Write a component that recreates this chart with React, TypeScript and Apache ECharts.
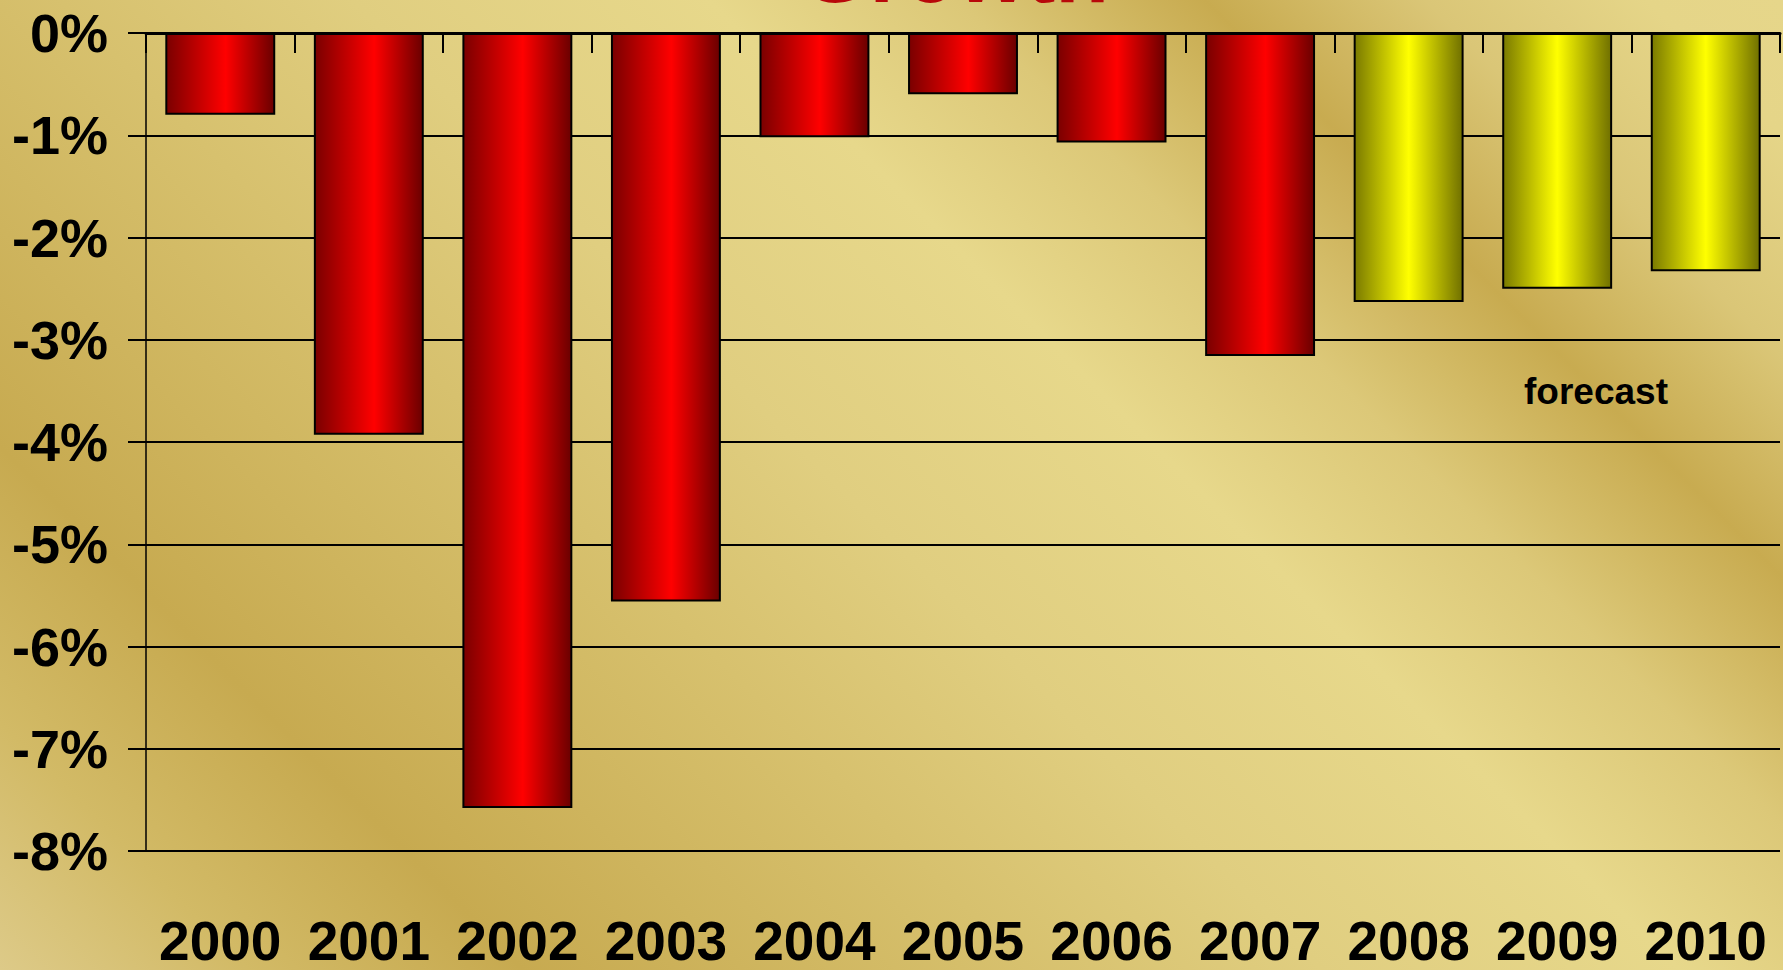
import React, { useEffect, useRef } from "react";
import * as echarts from "echarts";

const years = ["2000", "2001", "2002", "2003", "2004", "2005", "2006", "2007", "2008", "2009", "2010"];
const actualValues: (number | string)[] = [-0.8, -3.93, -7.58, -5.56, -1.02, -0.6, -1.07, -3.16, "-", "-", "-"];
const forecastValues: (number | string)[] = ["-", "-", "-", "-", "-", "-", "-", "-", -2.63, -2.5, -2.33];
const yTicks = { min: -8, max: 0, interval: 1 };
const titleText = "Growth";
const forecastLabel = "forecast";

const sansFont = "'Liberation Sans', Arial, sans-serif";

const redGrad = new echarts.graphic.LinearGradient(0, 0, 1, 0, [
  { offset: 0, color: "#7a0000" },
  { offset: 0.55, color: "#ff0000" },
  { offset: 1, color: "#6a0000" },
]);
const yellowGrad = new echarts.graphic.LinearGradient(0, 0, 1, 0, [
  { offset: 0, color: "#7a7a00" },
  { offset: 0.5, color: "#ffff00" },
  { offset: 1, color: "#707000" },
]);

export default function App() {
  const ref = useRef<HTMLDivElement>(null);
  useEffect(() => {
    if (!ref.current) return;
    const chart = echarts.init(ref.current, undefined, { renderer: "svg" });
    chart.setOption({
      animation: false,
      backgroundColor: "transparent",
      grid: {
        left: 146,
        right: 3,
        top: 33,
        bottom: 119,
        containLabel: false,
        outerBoundsMode: "none",
      },
      xAxis: [
        {
          type: "category",
          data: years,
          position: "top",
          axisLine: { show: true, onZero: false, lineStyle: { color: "#000", width: 3 } },
          axisTick: { show: true, inside: true, length: 20, lineStyle: { color: "#000", width: 2 } },
          axisLabel: { show: false },
          splitLine: { show: false },
        },
        {
          type: "category",
          data: years,
          position: "bottom",
          axisLine: { show: false, onZero: false },
          axisTick: { show: false },
          axisLabel: {
            show: true,
            interval: 0,
            color: "#000",
            fontFamily: sansFont,
            fontWeight: "bold",
            fontSize: 55,
            margin: 62,
          },
        },
      ],
      yAxis: {
        type: "value",
        min: yTicks.min,
        max: yTicks.max,
        interval: yTicks.interval,
        axisLine: { show: true, lineStyle: { color: "#000", width: 1.5 } },
        axisTick: { show: true, length: 18, lineStyle: { color: "#000", width: 2 } },
        splitLine: { show: true, lineStyle: { color: "#000", width: 2 } },
        axisLabel: {
          color: "#000",
          fontFamily: sansFont,
          fontWeight: "bold",
          fontSize: 54,
          margin: 38,
          formatter: (v: number) => `${v}%`,
        },
      },
      series: [
        {
          type: "bar",
          xAxisIndex: 0,
          stack: "g",
          data: actualValues,
          barCategoryGap: "26%",
          itemStyle: { color: redGrad, borderColor: "#000", borderWidth: 2 },
        },
        {
          type: "bar",
          xAxisIndex: 0,
          stack: "g",
          data: forecastValues,
          barCategoryGap: "26%",
          itemStyle: { color: yellowGrad, borderColor: "#000", borderWidth: 2 },
        },
      ],
      graphic: [
        {
          type: "text",
          x: 955,
          y: -29,
          style: {
            text: titleText,
            fill: "#b8080a",
            font: `bold 88px ${sansFont}`,
            textAlign: "center",
            textVerticalAlign: "middle",
          },
        },
        {
          type: "text",
          x: 1596,
          y: 391,
          style: {
            text: forecastLabel,
            fill: "#000",
            font: `bold 37px ${sansFont}`,
            textAlign: "center",
            textVerticalAlign: "middle",
          },
        },
      ],
    });
    return () => chart.dispose();
  }, []);
  return (
    <div
      style={{
        position: "absolute",
        left: 0,
        top: 0,
        width: 1783,
        height: 970,
        background:
          "linear-gradient(45deg, #ddca88 0%, #d2ba66 9%, #c7aa50 19%, #d5be6a 35%, #e0ce80 48%, #e7d88b 61%, #dcc878 70%, #c8ab50 79%, #dac677 87%, #e5d588 95%, #e6d68a 100%)",
      }}
    >
      <div ref={ref} style={{ width: 1783, height: 970 }} />
    </div>
  );
}
